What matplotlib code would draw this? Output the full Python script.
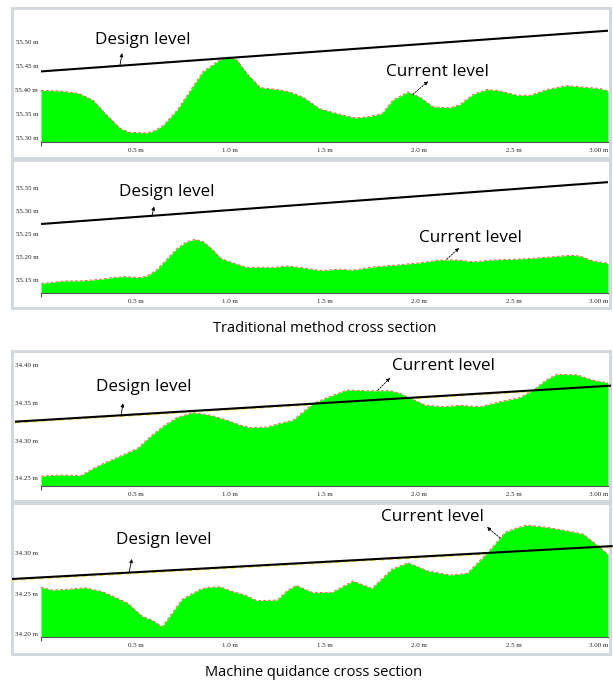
import matplotlib
matplotlib.use("Agg")
import matplotlib.pyplot as plt
from matplotlib.patches import Rectangle

W, H = 613, 681

# ---- survey data: station along section (m) and ground elevation (m) ----
trad1_x = [0.00, 0.10, 0.20, 0.275, 0.35, 0.42, 0.47, 0.56, 0.605, 0.645, 0.72, 0.79, 0.857,
           0.947, 1.00, 1.037, 1.09, 1.16, 1.249, 1.317, 1.386, 1.476, 1.566, 1.661, 1.74,
           1.804, 1.862, 1.942, 2.005, 2.074, 2.164, 2.217, 2.286, 2.36, 2.429, 2.519, 2.587,
           2.677, 2.783, 2.868, 2.958, 3.00]
trad1_z = [55.399, 55.398, 55.393, 55.379, 55.347, 55.320, 55.312, 55.311, 55.316, 55.326,
           55.358, 55.399, 55.438, 55.463, 55.469, 55.462, 55.434, 55.405, 55.401, 55.396,
           55.385, 55.361, 55.351, 55.342, 55.345, 55.351, 55.379, 55.396, 55.385, 55.365,
           55.363, 55.370, 55.391, 55.401, 55.398, 55.389, 55.389, 55.401, 55.409, 55.406,
           55.403, 55.398]
trad1_design = [55.4385, 55.523]

trad2_x = [0.00, 0.05, 0.12, 0.22, 0.31, 0.38, 0.44, 0.52, 0.56, 0.61, 0.67, 0.72, 0.77, 0.815,
           0.86, 0.91, 0.95, 1.02, 1.09, 1.16, 1.23, 1.30, 1.37, 1.48, 1.58, 1.65, 1.76, 1.88,
           2.01, 2.11, 2.20, 2.29, 2.39, 2.50, 2.60, 2.71, 2.80, 2.85, 2.92, 3.00]
trad2_z = [55.1435, 55.145, 55.1485, 55.149, 55.152, 55.156, 55.158, 55.156, 55.159, 55.172,
           55.1975, 55.219, 55.233, 55.2385, 55.233, 55.2155, 55.1975, 55.187, 55.178, 55.178,
           55.178, 55.181, 55.178, 55.171, 55.174, 55.172, 55.179, 55.183, 55.188, 55.194,
           55.194, 55.190, 55.194, 55.1955, 55.1975, 55.201, 55.204, 55.2025, 55.192, 55.187]
trad2_design = [55.2716, 55.362]

mg1_x = [0.00, 0.10, 0.21, 0.275, 0.35, 0.42, 0.51, 0.577, 0.646, 0.72, 0.804, 0.894, 0.984,
         1.053, 1.106, 1.196, 1.265, 1.333, 1.386, 1.439, 1.513, 1.619, 1.725, 1.847, 1.899,
         1.968, 2.032, 2.127, 2.217, 2.323, 2.429, 2.534, 2.603, 2.677, 2.73, 2.836, 2.921, 3.00]
mg1_z = [34.253, 34.2544, 34.2535, 34.263, 34.272, 34.2795, 34.2897, 34.305, 34.319, 34.3308,
         34.337, 34.3338, 34.327, 34.3206, 34.317, 34.318, 34.323, 34.327, 34.338, 34.349,
         34.357, 34.367, 34.366, 34.366, 34.3626, 34.3546, 34.347, 34.3449, 34.3467, 34.3449,
         34.3515, 34.357, 34.367, 34.381, 34.3878, 34.3872, 34.380, 34.3766]
mg1_design_x = [-0.138, 3.016]
mg1_design = [34.325, 34.3727]

mg2_x = [0.00, 0.06, 0.14, 0.233, 0.328, 0.392, 0.455, 0.534, 0.593, 0.64, 0.693, 0.746, 0.841,
         0.884, 0.947, 1.016, 1.079, 1.143, 1.249, 1.302, 1.349, 1.439, 1.54, 1.651, 1.751,
         1.857, 1.942, 2.048, 2.164, 2.254, 2.36, 2.455, 2.519, 2.571, 2.677, 2.783, 2.868,
         2.942, 3.00]
mg2_z = [34.2579, 34.2545, 34.2554, 34.2574, 34.2524, 34.2455, 34.2388, 34.2223, 34.2165,
         34.209, 34.2256, 34.243, 34.2554, 34.2579, 34.2586, 34.2524, 34.2483, 34.2413, 34.2421,
         34.2537, 34.2603, 34.2512, 34.2517, 34.2657, 34.2566, 34.2805, 34.2884, 34.2781,
         34.2731, 34.2752, 34.300, 34.326, 34.3317, 34.335, 34.3322, 34.328, 34.3239, 34.3103,
         34.2988]
mg2_design_x = [-0.153, 3.025]
mg2_design = [34.2682, 34.309]

x_ticks = [0.5, 1.0, 1.5, 2.0, 2.5, 3.0]
x_ticklabels = ["0.5 m", "1.0 m", "1.5 m", "2.0 m", "2.5 m", "3.00 m"]
trad1_yticks = [55.30, 55.35, 55.40, 55.45, 55.50]
trad2_yticks = [55.15, 55.20, 55.25, 55.30, 55.35]
mg1_yticks = [34.25, 34.30, 34.35, 34.40]
mg2_yticks = [34.20, 34.25, 34.30]

TXT_FONT = ["Open Sans", "DejaVu Sans"]
GRAY = "#d3d7de"


def fig_rect(fig, x0, y0, x1, y1, color):
    # rectangle given in pixel coords (top-left origin)
    fig.add_artist(Rectangle((x0 / W, 1 - y1 / H), (x1 - x0) / W, (y1 - y0) / H,
                             transform=fig.transFigure, facecolor=color,
                             edgecolor="none", zorder=0))


def make_axes(fig, top, bottom):
    return fig.add_axes([41 / W, 1 - bottom / H, (608 - 41) / W, (bottom - top) / H],
                        facecolor="none")


def draw_panel(ax, x, z, dx, dz, ylim, yticks, under_color, labels):
    ax.set_xlim(0, 3.0)
    ax.set_ylim(*ylim)
    # existing ground
    ax.fill_between(x, z, ylim[0], color="#00ff00", lw=0, zorder=2)
    ax.plot(x, z, color="#e06a5a", lw=0.7, ls=(0, (3, 2)), zorder=3)
    # design grade
    if under_color:
        ax.plot(dx, [v - 0.0015 for v in dz], color=under_color, lw=0.9,
                ls=(0, (4, 3)), zorder=1, clip_on=False)
    ax.plot(dx, dz, color="black", lw=1.5, zorder=4, clip_on=False,
            solid_capstyle="butt")

    for s in ["top", "right", "left"]:
        ax.spines[s].set_visible(False)
    ax.spines["bottom"].set_color("#555555")
    ax.spines["bottom"].set_linewidth(0.8)
    ax.set_xticks(x_ticks)
    ax.set_xticklabels(x_ticklabels, family="Liberation Serif", fontsize=5, color="#222222")
    ax.get_xticklabels()[-1].set_ha("right")
    ax.set_xticks([0.0, 3.0], minor=True)
    ax.tick_params(axis="x", which="major", length=0, pad=4.6)
    ax.tick_params(axis="x", which="minor", length=3, width=0.8, color="#555555")
    ax.set_yticks(yticks)
    ax.set_yticklabels([f"{v:.2f} m" for v in yticks], family="Liberation Serif",
                       fontsize=5, color="#222222")
    ax.tick_params(axis="y", length=0, pad=2)

    (dtxt, dtail, dhead), (ctxt, ctail, chead) = labels
    ax.text(*dtxt, "Design level", family=TXT_FONT, fontsize=12.3, ha="center",
            va="center", zorder=5)
    ax.annotate("", xy=dhead, xytext=dtail, zorder=5,
                arrowprops=dict(arrowstyle="-|>", lw=0.6, color="black",
                                mutation_scale=5, shrinkA=0, shrinkB=0))
    ax.text(*ctxt, "Current level", family=TXT_FONT, fontsize=12.3, ha="center",
            va="center", zorder=5)
    ax.annotate("", xy=chead, xytext=ctail, zorder=5,
                arrowprops=dict(arrowstyle="-|>", lw=0.6, color="black", ls=(0, (2, 1.5)),
                                mutation_scale=5, shrinkA=0, shrinkB=0))


fig = plt.figure(figsize=(W / 100, H / 100), dpi=100, facecolor="white")

# panel frames
fig_rect(fig, 11, 7, 612, 310, GRAY)
fig_rect(fig, 14, 10, 609, 157, "white")
fig_rect(fig, 14, 162, 609, 307, "white")
fig_rect(fig, 11, 350, 612, 656, GRAY)
fig_rect(fig, 14, 353, 609, 500, "white")
fig_rect(fig, 14, 505, 609, 653, "white")

ax1 = make_axes(fig, 10, 142)
draw_panel(ax1, trad1_x, trad1_z, [0, 3.0], trad1_design, (55.292, 55.566), trad1_yticks,
           None,
           [((0.54, 55.5035), (0.418, 55.4515), (0.429, 55.4765)),
            ((2.10, 55.437), (1.968, 55.391), (2.048, 55.418))])

ax2 = make_axes(fig, 162, 293)
draw_panel(ax2, trad2_x, trad2_z, [0, 3.0], trad2_design, (55.1226, 55.4055), trad2_yticks,
           None,
           [((0.667, 55.3405), (0.587, 55.2884), (0.598, 55.3096)),
            ((2.27, 55.2414), (2.148, 55.196), (2.212, 55.2198))])

ax3 = make_axes(fig, 353, 486)
draw_panel(ax3, mg1_x, mg1_z, mg1_design_x, mg1_design, (34.2398, 34.416), mg1_yticks,
           "#f2e030",
           [((0.545, 34.371), (0.423, 34.3325), (0.434, 34.3493)),
            ((2.127, 34.3987), (1.783, 34.367), (1.847, 34.383))])

ax4 = make_axes(fig, 505, 637)
draw_panel(ax4, mg2_x, mg2_z, mg2_design_x, mg2_design, (34.1963, 34.3599), mg2_yticks,
           "#f2e030",
           [((0.651, 34.3165), (0.466, 34.2768), (0.481, 34.293)),
            ((2.069, 34.345), (2.429, 34.319), (2.36, 34.3326))])

fig.text(325 / W, 1 - 329 / H, "Traditional method cross section", family=TXT_FONT,
         fontsize=10.5, ha="center", va="center")
fig.text(314 / W, 1 - 673 / H, "Machine quidance cross section", family=TXT_FONT,
         fontsize=10.5, ha="center", va="center")

fig.savefig("out.png", dpi=100)
